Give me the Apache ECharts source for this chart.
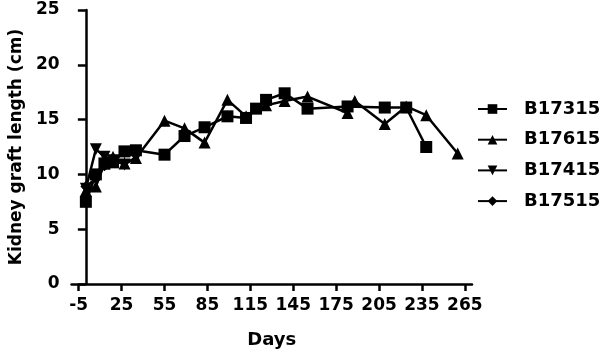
<!DOCTYPE html>
<html><head><meta charset="utf-8">
<script src="https://cdn.jsdelivr.net/npm/echarts@6/dist/echarts.min.js"></script>
<style>html,body{margin:0;padding:0;background:#fff}#c{width:604px;height:354px}</style>
</head><body><div id="c"></div>
<script>
const xTicks = [-5, 25, 55, 85, 115, 145, 175, 205, 235, 265];
const seriesNames = ['B17315', 'B17615', 'B17415', 'B17515'];
const b17315 = [[0,7.5],[7,10.0],[13,11.0],[19,11.1],[27,12.1],[35,12.2],[55,11.8],[69,13.5],[83,14.3],[99,15.3],[112,15.15],[119,16.0],[126,16.8],[139,17.4],[155,16.0],[183,16.2],[209,16.1],[224,16.1],[238,12.5]];
const b17615 = [[0,8.5],[7,8.9],[13,11.0],[19,11.6],[27,11.0],[35,11.5],[55,14.9],[69,14.2],[83,12.9],[99,16.8],[112,15.3],[126,16.3],[139,16.7],[155,17.1],[183,15.6],[188,16.7],[209,14.6],[224,16.2],[238,15.4],[260,11.9]];
const b17415 = [[0,8.7],[7,12.3],[13,11.6],[19,11.3],[27,10.9],[35,11.5]];
const b17515 = [[0,8.9],[7,9.6],[13,10.8],[19,11.3],[27,12.0],[35,12.2]];

const chart = echarts.init(document.getElementById('c'));
const font = '"DejaVu Sans", sans-serif';
function mk(name, data, symbol, size, rot) {
  return {
    name, type: 'line', data, symbol, symbolSize: size, symbolRotate: rot || 0,
    lineStyle: {color: '#000', width: 2.5}, itemStyle: {color: '#000'},
    animation: false
  };
}
chart.setOption({
  animation: false,
  grid: {left: 65, right: 132, top: 10, bottom: 69},
  legend: {
    orient: 'vertical', left: 472, top: 95, itemWidth: 29, itemHeight: 12, itemGap: 12.7,
    textStyle: {fontFamily: font, fontWeight: 'bold', fontSize: 18, lineHeight: 18, color: '#000', padding: [0,0,0,12]},
    data: seriesNames.map(n => ({name: n}))
  },
  xAxis: {
    type: 'value', min: -10, max: 270,
    name: 'Days', nameLocation: 'middle', nameGap: 47,
    nameTextStyle: {fontFamily: font, fontWeight: 'bold', fontSize: 18, color: '#000'},
    axisLine: {lineStyle: {color: '#000', width: 2.5}},
    axisTick: {show: true, length: 7, lineStyle: {color: '#000', width: 2.5}, customValues: xTicks},
    axisLabel: {fontFamily: font, fontWeight: 'bold', fontSize: 17, color: '#000', margin: 13, customValues: xTicks},
    splitLine: {show: false}
  },
  yAxis: {
    type: 'value', min: 0, max: 25, interval: 5,
    name: 'Kidney graft length (cm)', nameLocation: 'middle', nameGap: 44,
    nameTextStyle: {fontFamily: font, fontWeight: 'bold', fontSize: 17, color: '#000'},
    axisLine: {show: true, lineStyle: {color: '#000', width: 2.5}},
    axisTick: {show: true, length: 8, lineStyle: {color: '#000', width: 2.5}},
    axisLabel: {fontFamily: font, fontWeight: 'bold', fontSize: 17, color: '#000', margin: 12},
    splitLine: {show: false}
  },
  series: [
    mk('B17315', b17315, 'rect', 12),
    mk('B17615', b17615, 'triangle', 12),
    mk('B17415', b17415, 'triangle', 12, 180),
    mk('B17515', b17515, 'diamond', 11)
  ]
});
</script></body></html>
